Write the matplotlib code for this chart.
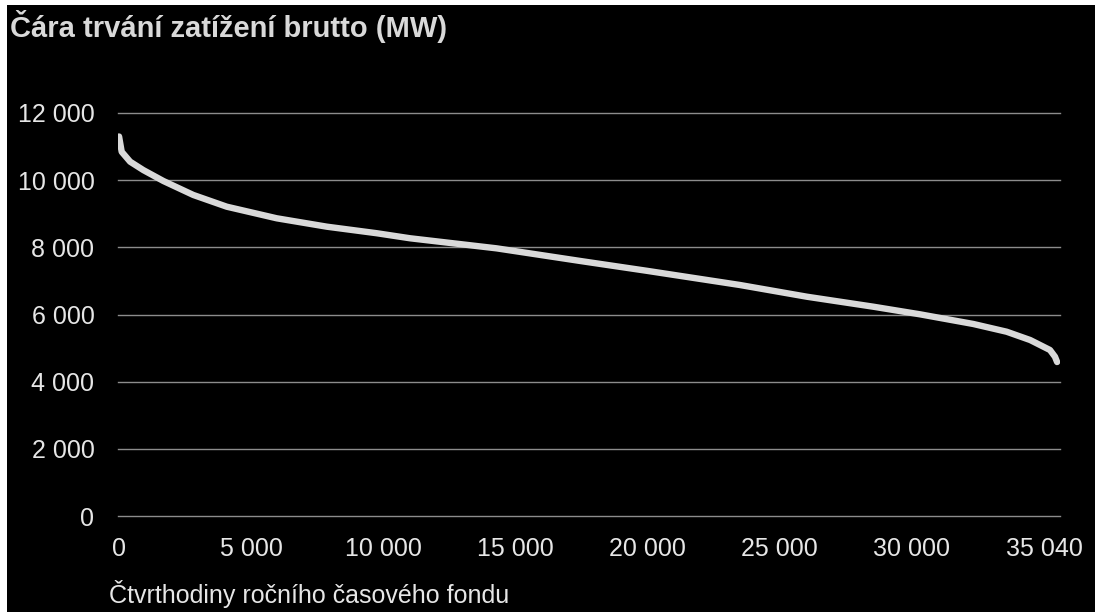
import matplotlib
matplotlib.use("Agg")
import matplotlib.pyplot as plt
from matplotlib.patches import Rectangle
from matplotlib.ticker import FuncFormatter

# serazena ctvrthodinova zatizeni (MW), odectena z krivky trvani
ctvrthodiny = [0, 100, 420, 920, 1680, 2810, 4080, 5970, 7870, 9760,
               11020, 14300, 17500, 20000, 23520, 26050, 28570, 30340,
               32360, 33620, 34510, 35260, 35450, 35530]
zatizeni = [11300, 10845, 10550, 10300, 9975, 9560, 9210, 8865, 8615, 8420,
            8270, 7970, 7590, 7300, 6878, 6530, 6232, 6005,
            5717, 5487, 5240, 4943, 4743, 4585]

x_ticks = [0, 5000, 10000, 15000, 20000, 25000, 30000, 35040]
y_ticks = [0, 2000, 4000, 6000, 8000, 10000, 12000]

title = "Čára trvání zatížení brutto (MW)"
xlabel = "Čtvrthodiny ročního časového fondu"

plt.rcParams["font.family"] = ["Liberation Sans", "DejaVu Sans"]
text_color = "#e6e6e6"

fig = plt.figure(figsize=(10.95, 6.12), dpi=100, facecolor="white")
fig.patches.append(Rectangle((7 / 1095, 0), 1, 607 / 612, transform=fig.transFigure,
                             facecolor="black", edgecolor="none", zorder=-10))

ax = fig.add_axes([118 / 1095, 96 / 612, 942 / 1095, 403 / 612])
ax.set_zorder(5)
ax.patch.set_alpha(0)

ax.plot(ctvrthodiny, zatizeni, color="#d9d9d9", lw=4.6, solid_capstyle="round",
        solid_joinstyle="round", zorder=3)

ax.set_xlim(-40, 35640)
ax.set_ylim(0, 12000)
ax.set_xticks(x_ticks)
ax.set_yticks(y_ticks)
fmt = FuncFormatter(lambda v, p: f"{int(v):,}".replace(",", " "))
ax.xaxis.set_major_formatter(fmt)
ax.yaxis.set_major_formatter(fmt)

ax.grid(axis="y", color="#8c8c8c", lw=1.0)
for gl in ax.get_ygridlines():
    gl.set_clip_on(False)
ax.set_axisbelow(True)
for s in ax.spines.values():
    s.set_visible(False)
ax.tick_params(axis="both", length=0, labelsize=18, colors=text_color)
ax.tick_params(axis="y", pad=17)
ax.tick_params(axis="x", pad=15)

fig.text(10 / 1095, 1 - 37 / 612, title, color="#d9d9d9", fontsize=21,
         fontweight="bold", ha="left", va="baseline", zorder=6)
fig.text(109 / 1095, 1 - 603 / 612, xlabel, color=text_color, fontsize=18,
         ha="left", va="baseline", zorder=6)

fig.savefig("out.png", dpi=100, facecolor=fig.get_facecolor())
